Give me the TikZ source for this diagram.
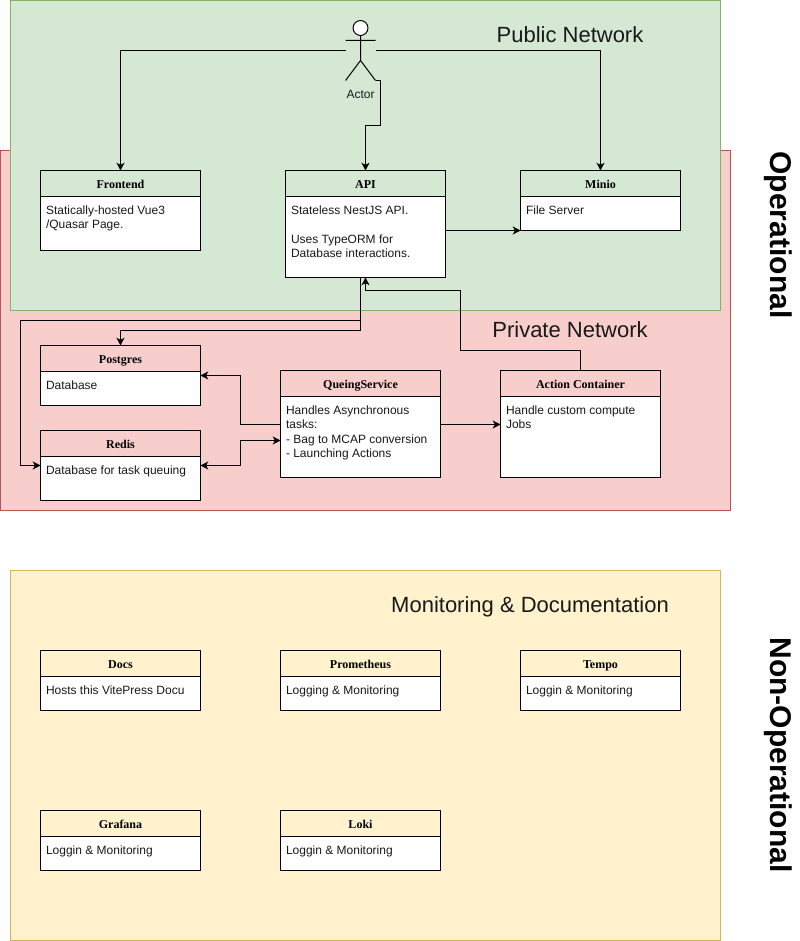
\documentclass[tikz,border=0pt]{standalone}
\usepackage{fontspec}
\setmainfont{Liberation Sans}
\newfontfamily\laneserif{Liberation Serif}
\usetikzlibrary{arrows.meta,calc}
\definecolor{greenfill}{HTML}{D5E8D4}
\definecolor{greenline}{HTML}{82B366}
\definecolor{redfill}{HTML}{F8CECC}
\definecolor{redline}{HTML}{B85450}
\definecolor{yellowfill}{HTML}{FFF2CC}
\definecolor{yellowline}{HTML}{D6B656}
\tikzset{
  region/.style={line width=.75pt,anchor=north west,inner sep=0pt,outer sep=0pt},
  regiontitle/.style={font=\fontsize{16.5}{20}\selectfont,inner sep=0pt,text=black!90,text height=12pt,text depth=0pt},
  sidetitle/.style={font=\fontsize{22.5}{27}\selectfont\bfseries,rotate=-90,inner sep=0pt},
  lanehead/.style={draw=black,line width=.75pt,anchor=north west,inner sep=0pt,outer sep=0pt,text height=7.4pt,text depth=.6pt,font=\laneserif\fontsize{9}{10.8}\selectfont\bfseries},
  lanebody/.style={draw=black,fill=white,line width=.75pt,anchor=north west,inner sep=0pt,outer sep=0pt},
  laneouter/.style={anchor=north west,inner sep=0pt,outer sep=0pt},
  lanetext/.style={anchor=north west,inner sep=0pt,outer sep=0pt,align=left,font=\fontsize{9}{10.8}\selectfont,text=black!90},
  link/.style={line width=.75pt,-{Stealth[length=5.8pt,width=6pt,inset=1.6pt]}},
  linkboth/.style={line width=.75pt,{Stealth[length=5.8pt,width=6pt,inset=1.6pt]}-{Stealth[length=5.8pt,width=6pt,inset=1.6pt]}}
}
\newcommand{\lane}[7]{%
  \node[lanebody,minimum width=#4*.75pt,minimum height=(#5-26)*.75pt] (#1body) at (#2,#3+26) {};
  \node[lanehead,minimum width=#4*.75pt,minimum height=26*.75pt] (#1head) at (#2,#3) {#6};
  \node[laneouter,minimum width=#4*.75pt,minimum height=#5*.75pt] (#1) at (#2,#3) {};
  \node[lanetext] (#1text) at (#2+5.5,#3+33.8) {\rule{0pt}{7.5pt}#7};
}
\begin{document}
\begin{tikzpicture}[x=.75pt,y=-.75pt]
\useasboundingbox (0,0) rectangle (799,941);
% regions
\node[region,draw=redline,fill=redfill,minimum width=730*.75pt,minimum height=360*.75pt] (private) at (.5,150.5) {};
\node[region,draw=greenline,fill=greenfill,minimum width=710*.75pt,minimum height=310*.75pt] (public) at (10.5,.5) {};
\node[region,draw=yellowline,fill=yellowfill,minimum width=710*.75pt,minimum height=370*.75pt] (monitoring) at (10.5,570.5) {};
\node[regiontitle] (publictitle) at (570,34.5) {Public Network};
\node[regiontitle] (privatetitle) at (570,329.5) {Private Network};
\node[regiontitle] (monitortitle) at (530,604.5) {Monitoring \& Documentation};
\node[sidetitle] (sideop) at (778,235) {Operational};
\node[sidetitle] (sidenon) at (778,755) {Non-Operational};
% boxes
\lane{frontend}{40.5}{170.5}{160}{80}{Frontend}{Statically-hosted Vue3\\/Quasar Page.}
\lane{api}{285.5}{170.5}{160}{107}{API}{Stateless NestJS API.\\[10.8pt]Uses TypeORM for\\Database interactions.}
\lane{minio}{520.5}{170.5}{160}{60}{Minio}{File Server}
\lane{postgres}{40.5}{345.5}{160}{60}{Postgres}{Database}
\lane{redis}{40.5}{430.5}{160}{70}{Redis}{Database for task queuing}
\lane{queue}{280.5}{370.5}{160}{107}{QueingService}{Handles Asynchronous\\tasks:\\- Bag to MCAP conversion\\- Launching Actions}
\lane{action}{500.5}{370.5}{160}{107}{Action Container}{Handle custom compute\\Jobs}
\lane{docs}{40.5}{650.5}{160}{60}{Docs}{Hosts this VitePress Docu}
\lane{prometheus}{280.5}{650.5}{160}{60}{Prometheus}{Logging \& Monitoring}
\lane{tempo}{520.5}{650.5}{160}{60}{Tempo}{Loggin \& Monitoring}
\lane{grafana}{40.5}{810.5}{160}{60}{Grafana}{Loggin \& Monitoring}
\lane{loki}{280.5}{810.5}{160}{60}{Loki}{Loggin \& Monitoring}
% actor
\node[laneouter,minimum width=30*.75pt,minimum height=60*.75pt] (actor) at (345.5,20.5) {};
\draw[line width=.75pt,fill=white] (360.5,28) circle[radius=5.6pt];
\draw[line width=.75pt] (360.5,35.5) -- (360.5,60.5) -- (345.5,80.5) (360.5,60.5) -- (375.5,80.5) (345.5,40.5) -- (375.5,40.5);
\node[inner sep=0pt,font=\fontsize{9}{10.8}\selectfont,text=black!90] (actorlabel) at (360.5,94) {Actor};
% connectors
\draw[link] (actor.west) -| (frontend.north);
\draw[link] (actor.east) -| (minio.north);
\draw[link] (actor.south east) -- ++(5,0) |- ($(api.north)+(15,-45)$) -- ++(-15,0) -- (api.north);
\draw[link] (api.east |- minio.south) -- (minio.south west);
\draw[link] ($(api.south)+(-5,0)$) |- ($(redis.west)+(-20,-145)$) -- ++(0,145) -- (redis.west);
\draw[link] ($(api.south)+(-5,0)$) |- ($(postgres.north)+(0,-15)$) -- (postgres.north);
\draw[link] (action.north) |- ($(action.north)+(-120,-20)$) -- ++(0,-60) -- ($(api.south)+(0,13)$) -- (api.south);
\draw[link] ($(queue.west)+(0,.5)$) -- ++(-40,0) |- (postgres.east);
\draw[linkboth] (redis.east) -- ++(40,0) |- ($(queue.west)+(0,16.5)$);
\draw[link] ($(queue.east)+(0,.5)$) -- ($(action.west)+(0,.5)$);
\end{tikzpicture}
\end{document}
